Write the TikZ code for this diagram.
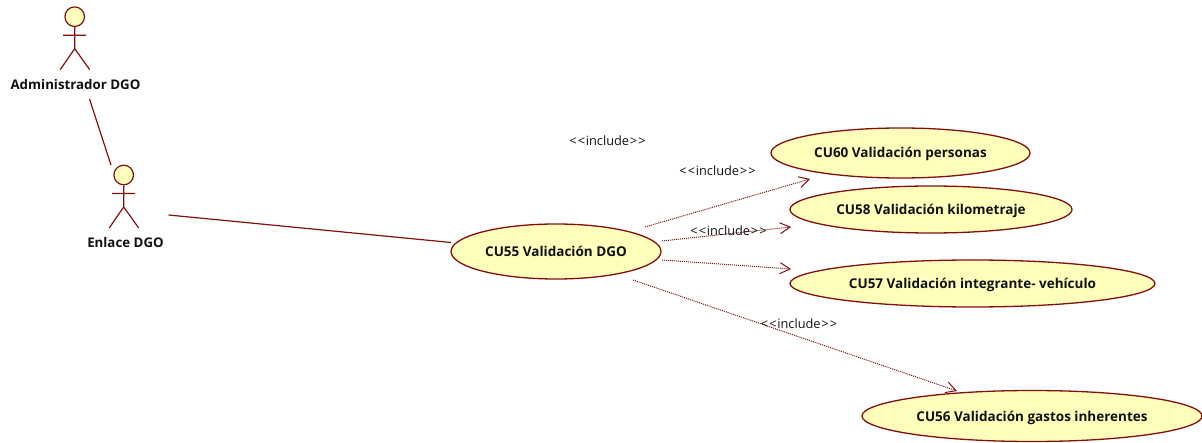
\documentclass[tikz,border=0pt]{standalone}
\usepackage{fontspec}
\setmainfont{Open Sans}
\usetikzlibrary{shapes.geometric,arrows.meta}
\definecolor{umlline}{HTML}{850F0F}
\definecolor{umlfill}{HTML}{FFFFBB}
\definecolor{umltext}{HTML}{111111}
\tikzset{
  usecase/.style={draw=umlline,fill=umlfill,ellipse,line width=1.3pt,inner sep=0pt,text=umltext,text height=10pt,text depth=0pt,font=\fontsize{13.5}{16}\selectfont\bfseries},
  actorlabel/.style={inner sep=0pt,text=umltext,text height=10pt,text depth=0pt,font=\fontsize{13.3}{16}\selectfont\bfseries},
  stereo/.style={inner sep=0pt,text=umltext,text height=10pt,text depth=0pt,font=\fontsize{12.8}{15}\selectfont},
  actorline/.style={draw=umlline,line width=1.2pt},
  assoc/.style={draw=umlline,line width=1.2pt},
  incl/.style={draw=umlline,line width=1pt,densely dotted,-{Straight Barb[length=10pt,width=11pt,line width=1pt,sep=0pt]}},
  headcircle/.style={circle,draw=umlline,fill=umlfill,line width=1.2pt,minimum size=19.6pt,inner sep=0pt},
}
\newcommand{\umlactor}[3]{%
  \node[headcircle] (#1head) at (#2,#3) {};
  \coordinate (#1hip) at (#2,#3+32);
  \coordinate (#1armL) at (#2-11.5,#3+18.5);
  \coordinate (#1armR) at (#2+11.5,#3+18.5);
  \coordinate (#1legL) at (#2-14.5,#3+53);
  \coordinate (#1legR) at (#2+15,#3+53);
  \draw[actorline] (#1head) -- (#1hip) (#1armL) -- (#1armR) (#1legL) -- (#1hip) -- (#1legR);
}
\newcommand{\incltext}{<\kern1.2pt<\kern0.6pt include\kern0.6pt>\kern1.2pt>}
\begin{document}
\begin{tikzpicture}[x=1pt,y=-1pt]
\useasboundingbox (0,0) rectangle (1202,443);
\umlactor{adm}{74.7}{16.7}
\umlactor{enl}{123.7}{175}
\node[actorlabel] (admlabel) at (75.5,84.5) {Administrador DGO};
\node[actorlabel] (enllabel) at (125.5,242.5) {Enlace DGO};
\node[usecase,minimum width=210pt,minimum height=55pt] (cu55) at (556,251.5) {CU55 Validación DGO};
\node[usecase,minimum width=259pt,minimum height=50pt] (cu60) at (900.5,153) {CU60 Validación personas};
\node[usecase,minimum width=282pt,minimum height=47pt] (cu58) at (931,209.5) {CU58 Validación kilometraje};
\node[usecase,minimum width=365pt,minimum height=47pt] (cu57) at (972.5,283.5) {CU57 Validación integrante- vehículo};
\node[usecase,minimum width=340pt,minimum height=51pt] (cu56) at (1032,416) {CU56 Validación gastos inherentes};
\coordinate (a1) at (89.5,99);
\coordinate (a2) at (111,165);
\coordinate (e1) at (168.5,215);
\coordinate (e2) at (451,242.5);
\coordinate (s60) at (645,227);
\coordinate (t60) at (810,179);
\coordinate (s58) at (662,241);
\coordinate (t58) at (791,227);
\coordinate (s57) at (662,260);
\coordinate (t57) at (791,269);
\coordinate (s56) at (633,280);
\coordinate (t56) at (957,391);
\draw[assoc] (a1) -- (a2);
\draw[assoc] (e1) -- (e2);
\draw[incl] (s60) -- (t60);
\draw[incl] (s58) -- (t58);
\draw[incl] (s57) -- (t57);
\draw[incl] (s56) -- (t56);
\node[stereo] (l1) at (607.5,141) {\incltext};
\node[stereo] (l2) at (717.5,171) {\incltext};
\node[stereo] (l3) at (728.5,231) {\incltext};
\node[stereo] (l4) at (799,324) {\incltext};
\end{tikzpicture}
\end{document}
